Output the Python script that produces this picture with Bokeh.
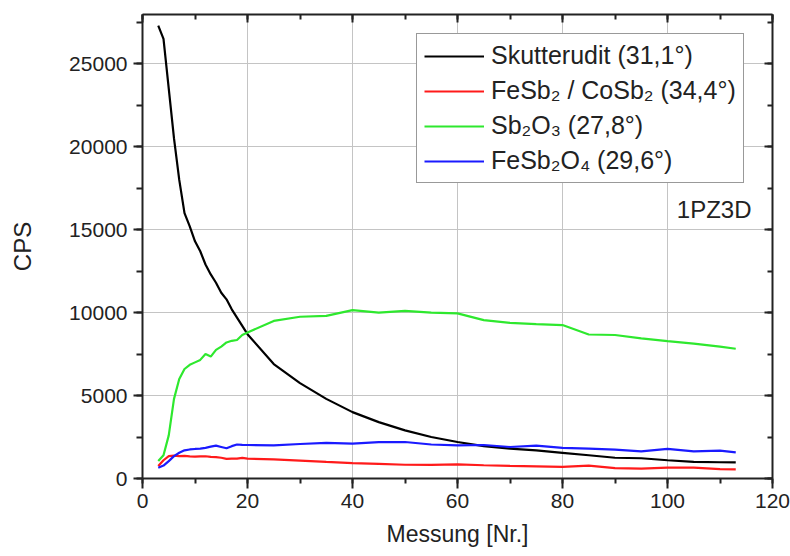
from bokeh.plotting import figure
from bokeh.models import (Range1d, LinearAxis, SingleIntervalTicker, Legend, LegendItem,
                          Label, CustomJSTickFormatter, ColumnDataSource)
from bokeh.embed import file_html
from bokeh.resources import INLINE

# ---- data ----
messung = [3, 4, 5, 6, 7, 8, 9, 10, 11, 12, 13, 14, 15, 16, 17, 18, 19, 20,
           25, 30, 35, 40, 45, 50, 55, 60, 65, 70, 75, 80, 85, 90, 95, 100, 105, 110, 113]
skutterudit = [27300, 26500, 23500, 20500, 18000, 16000, 15200, 14300, 13700, 12900, 12300,
               11800, 11200, 10800, 10200, 9700, 9200, 8700,
               6900, 5750, 4800, 4000, 3400, 2900, 2500, 2200, 1950, 1800, 1700, 1550, 1400,
               1250, 1220, 1100, 1000, 980, 970]
fesb2_cosb2 = [750, 1100, 1350, 1380, 1350, 1360, 1330, 1320, 1330, 1340, 1300, 1290, 1250,
               1180, 1200, 1200, 1240, 1200,
               1150, 1080, 1000, 930, 880, 830, 820, 850, 800, 760, 730, 700, 780, 620, 600,
               650, 650, 560, 550]
sb2o3 = [1050, 1400, 2600, 4800, 6000, 6600, 6850, 7000, 7150, 7500, 7350, 7750, 7950, 8200,
         8300, 8350, 8650, 8800,
         9500, 9750, 9800, 10150, 10000, 10100, 10000, 9950, 9550, 9380, 9300, 9250, 8680,
         8650, 8450, 8280, 8130, 7950, 7820]
fesb2o4 = [650, 780, 1050, 1350, 1550, 1700, 1750, 1780, 1800, 1850, 1920, 1980, 1900, 1820,
           1950, 2050, 2030, 2020,
           2000, 2080, 2150, 2100, 2190, 2200, 2050, 2000, 2020, 1900, 1980, 1850, 1800, 1740,
           1640, 1790, 1640, 1680, 1580]

series_labels = ["Skutterudit (31,1°)", "FeSb₂ / CoSb₂ (34,4°)", "Sb₂O₃ (27,8°)", "FeSb₂O₄ (29,6°)"]
series_colors = ["#000000", "#ff1a1a", "#2ee82e", "#1a1aff"]
sample_name = "1PZ3D"
x_label = "Messung [Nr.]"
y_label = "CPS"

FONT = "Liberation Sans"
AX = "#222222"

p = figure(width=790, height=556, output_backend="svg", toolbar_location=None,
           x_range=Range1d(0, 120), y_range=Range1d(0, 27970),
           min_border_left=142, min_border_right=18, min_border_top=14, min_border_bottom=78)
p.outline_line_color = None
p.background_fill_color = "white"
p.border_fill_color = "white"

src = ColumnDataSource(dict(x=messung, s=skutterudit, f=fesb2_cosb2, o=sb2o3, fo=fesb2o4))
renderers = []
for col, color in zip(["s", "f", "o", "fo"], series_colors):
    r = p.line("x", col, source=src, line_color=color, line_width=2.2)
    renderers.append(r)

# grid
p.xgrid.ticker = SingleIntervalTicker(interval=20)
p.ygrid.ticker = SingleIntervalTicker(interval=5000)
for g in (p.xgrid, p.ygrid):
    g.grid_line_color = "#c4c4c4"
    g.grid_line_width = 1

def style_axis(ax):
    ax.axis_line_color = AX
    ax.axis_line_width = 2
    ax.major_tick_line_color = AX
    ax.major_tick_line_width = 2
    ax.minor_tick_line_color = AX
    ax.minor_tick_line_width = 2
    ax.major_label_text_font = FONT
    ax.major_label_text_font_size = "21px"
    ax.major_label_text_color = "#222222"
    ax.axis_label_text_font = FONT
    ax.axis_label_text_font_size = "23px"
    ax.axis_label_text_font_style = "normal"
    ax.axis_label_text_color = "#222222"

xax = p.xaxis[0]
xax.ticker = SingleIntervalTicker(interval=20, num_minor_ticks=2)
style_axis(xax)
xax.major_tick_out = 10
xax.major_tick_in = 0
xax.minor_tick_out = 5
xax.minor_tick_in = 0
xax.major_label_standoff = 5
xax.axis_label = x_label
xax.axis_label_standoff = 10

yax = p.yaxis[0]
yax.ticker = SingleIntervalTicker(interval=5000, num_minor_ticks=2)
style_axis(yax)
yax.axis_label_text_font_size = "24px"
yax.major_tick_out = 9
yax.major_tick_in = 0
yax.minor_tick_out = 6
yax.minor_tick_in = 0
yax.major_label_standoff = 6
yax.axis_label = y_label
yax.axis_label_standoff = 30

blank = CustomJSTickFormatter(code="return ''")
top = LinearAxis(ticker=SingleIntervalTicker(interval=20, num_minor_ticks=2), formatter=blank)
right = LinearAxis(ticker=SingleIntervalTicker(interval=5000, num_minor_ticks=2), formatter=blank)
for ax in (top, right):
    style_axis(ax)
    ax.major_tick_out = 0
    ax.major_tick_in = 8
    ax.minor_tick_out = 0
    ax.minor_tick_in = 5
    ax.major_label_standoff = 0
p.add_layout(top, "above")
p.add_layout(right, "right")

legend = Legend(items=[LegendItem(label=l, renderers=[r]) for l, r in zip(series_labels, renderers)],
                location=(274, 295))
legend.label_text_font = FONT
legend.label_text_font_size = "25px"
legend.label_text_color = "#222222"
legend.glyph_width = 60
legend.glyph_height = 28
legend.label_height = 28
legend.label_standoff = 7
legend.spacing = 6
legend.padding = 7
legend.margin = 0
legend.border_line_color = "#333333"
legend.border_line_width = 1.5
legend.background_fill_alpha = 1
p.add_layout(legend, "center")

p.add_layout(Label(x=116, y=16200, text=sample_name, text_align="right",
                   text_baseline="alphabetic", text_font=FONT, text_font_size="24px",
                   text_color="#222222"))

open("out.html", "w").write(file_html(p, INLINE))
